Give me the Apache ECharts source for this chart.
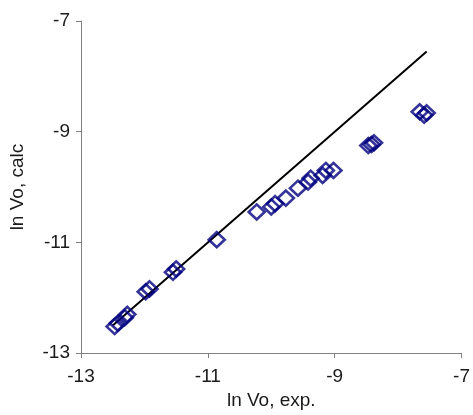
<!DOCTYPE html>
<html>
<head>
<meta charset="utf-8">
<script src="https://cdn.jsdelivr.net/npm/echarts@6/dist/echarts.min.js"></script>
<style>
  html, body { margin: 0; padding: 0; background: #fff; }
  #chart { width: 473px; height: 415px; }
</style>
</head>
<body>
<div id="chart"></div>
<script>
// ln Vo, exp. vs ln Vo, calc
var expValues = [-12.47, -12.42, -12.31, -12.27, -11.98, -11.92, -11.55, -11.50, -10.86,
  -10.23, -10.00, -9.94, -9.77, -9.58, -9.42, -9.38, -9.19, -9.14, -9.02,
  -8.47, -8.42, -8.38, -7.66, -7.59, -7.55];
var calcValues = [-12.52, -12.46, -12.36, -12.30, -11.89, -11.84, -11.54, -11.48, -10.95,
  -10.45, -10.36, -10.30, -10.20, -10.02, -9.91, -9.84, -9.79, -9.70, -9.70,
  -9.25, -9.23, -9.20, -8.64, -8.70, -8.66];
var parityLine = [-12.5, -7.55];
var tickLabels = [-13, -11, -9, -7];

var dom = document.getElementById("chart");
var myChart = echarts.init(dom);

var points = expValues.map(function (x, i) { return [x, calcValues[i]]; });
var linePts = parityLine.map(function (v) { return [v, v]; });

var axisCommon = {
    type: 'value',
    min: -13,
    max: -7,
    interval: 2,
    nameLocation: 'middle',
    nameTextStyle: { color: '#1a1a1a', fontSize: 19, fontFamily: 'Liberation Sans' },
    axisLine: { show: true, lineStyle: { color: '#808080', width: 1 } },
    axisTick: { show: true, length: 5, lineStyle: { color: '#808080' } },
    splitLine: { show: false },
    axisLabel: {
        color: '#1a1a1a',
        fontSize: 19,
        fontFamily: 'Liberation Sans',
        formatter: function (v) { return tickLabels.indexOf(v) >= 0 ? String(v) : ''; }
    }
};

option = {
    animation: false,
    backgroundColor: '#fff',
    grid: { left: 81, right: 7, top: 21, bottom: 58 },
    xAxis: Object.assign({}, axisCommon, {
        name: 'ln Vo, exp.',
        nameGap: 35,
        axisLabel: Object.assign({}, axisCommon.axisLabel, { margin: 14 })
    }),
    yAxis: Object.assign({}, axisCommon, {
        name: 'ln Vo, calc',
        nameGap: 54,
        axisLabel: Object.assign({}, axisCommon.axisLabel, { margin: 11 })
    }),
    series: [
        {
            type: 'line',
            data: linePts,
            symbol: 'none',
            lineStyle: { color: '#000', width: 2 },
            z: 1
        },
        {
            type: 'scatter',
            data: points,
            symbol: 'diamond',
            symbolSize: [16, 15],
            itemStyle: { color: 'rgba(255,255,255,0)', borderColor: '#000080', borderWidth: 2.6 },
            z: 2
        }
    ]
};
if (option && typeof option === "object") {
    myChart.setOption(option, true);
}
</script>
</body>
</html>
